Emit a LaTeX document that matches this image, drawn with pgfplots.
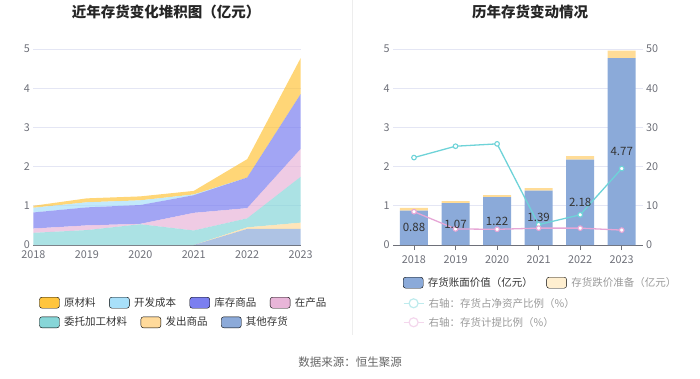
\documentclass[border=0pt]{standalone}
\usepackage{pgfplots}
\pgfplotsset{compat=1.18}
\usepackage{fontspec}
\setmainfont{Noto Sans CJK SC}
\definecolor{cYcl}{HTML}{FFC53D}
\definecolor{cKf}{HTML}{A8E0FA}
\definecolor{cKc}{HTML}{7B7FF0}
\definecolor{cZc}{HTML}{E8B5D8}
\definecolor{cWt}{HTML}{87D6D8}
\definecolor{cFc}{HTML}{FFDA9B}
\definecolor{cQt}{HTML}{8CAAD9}
\definecolor{cBar}{HTML}{8BAAD9}
\definecolor{cRes}{HTML}{FFDC97}
\definecolor{cTeal}{HTML}{6ED3D8}
\definecolor{cPink}{HTML}{E6A6D6}
\definecolor{cTick}{HTML}{6E7079}
\definecolor{cGrid}{HTML}{E4E6F4}
\definecolor{cLeg}{HTML}{333333}
\definecolor{cFade}{HTML}{9A9A9A}
\newcommand{\fs}[1]{\fontsize{#1bp}{#1bp}\selectfont}
\pgfplotsset{
  base/.style={scale only axis, ymin=0, ymax=5,
    /pgf/number format/assume math mode=true,
    tick label style={font=\fs{10.8}, text=cTick},
    xticklabel style={yshift=-2.5bp},
    ytick={0,1,2,3,4,5}, ymajorgrids, grid style={color=cGrid, line width=0.7pt},
    axis x line*=bottom, axis y line*=left,
    x axis line style={draw=cTick, line width=0.7pt, -},
    y axis line style={draw=none},
    ytick style={draw=none},
    clip=false},
  swatch/.style={legend image code/.code={\fill[##1, rounded corners=2.5bp] (0bp,-5.5bp) rectangle (20bp,5.5bp);}},
  lineleg/.style={legend image code/.code={\draw[##1, line width=1.2pt] (0bp,0bp) -- (20bp,0bp); \draw[##1, line width=1.2pt, fill=white] (10bp,0bp) circle (4.5bp);}},
  legrow/.style={hide axis, scale only axis, width=700bp, height=378bp, at={(0,0)}, anchor=south west,
    xmin=0, xmax=700, ymin=0, ymax=378,
    legend columns=-1,
    legend style={draw=none, fill=none, inner sep=0pt, outer sep=0pt, font=\fs{10.5}, text=cLeg,
      /tikz/every even column/.append style={column sep=9bp},
      nodes={inner xsep=4.5bp, inner ysep=0pt}}}
}
\begin{document}
\begin{tikzpicture}[x=1bp,y=1bp]
\useasboundingbox (0,0) rectangle (700,378);
\draw[color=black!7, line width=0.8pt] (352,43) -- (352,378);
\node[font=\fs{14.5}\bfseries, text=black!85] at (166,366.5) {近年存货变化堆积图（亿元）};
\node[font=\fs{14.5}\bfseries, text=black!85] at (530,366.5) {历年存货变动情况};
\node[font=\fs{11.5}, text=black!60] at (350,16) {数据来源：恒生聚源};

% left stacked area
\begin{axis}[base, at={(33.3bp,133bp)}, anchor=south west, width=267.4bp, height=196bp,
  xmin=2018, xmax=2023, xtick={2018,2019,2020,2021,2022,2023},
  xticklabels={2018,2019,2020,2021,2022,2023}, xtick style={draw=none},
  stack plots=y]
\addplot[draw=none, fill=cQt, fill opacity=0.7] coordinates {(2018,0) (2019,0) (2020,0) (2021,0) (2022,0.41) (2023,0.41)} \closedcycle;
\addplot[draw=none, fill=cFc, fill opacity=0.7] coordinates {(2018,0) (2019,0) (2020,0) (2021,0) (2022,0.04) (2023,0.16)} \closedcycle;
\addplot[draw=none, fill=cWt, fill opacity=0.7] coordinates {(2018,0.31) (2019,0.38) (2020,0.53) (2021,0.37) (2022,0.23) (2023,1.17)} \closedcycle;
\addplot[draw=none, fill=cZc, fill opacity=0.7] coordinates {(2018,0.11) (2019,0.12) (2020,0.01) (2021,0.45) (2022,0.26) (2023,0.71)} \closedcycle;
\addplot[draw=none, fill=cKc, fill opacity=0.7] coordinates {(2018,0.41) (2019,0.46) (2020,0.48) (2021,0.45) (2022,0.78) (2023,1.40)} \closedcycle;
\addplot[draw=none, fill=cKf, fill opacity=0.7] coordinates {(2018,0.12) (2019,0.13) (2020,0.12) (2021,0.02) (2022,0) (2023,0)} \closedcycle;
\addplot[draw=none, fill=cYcl, fill opacity=0.7] coordinates {(2018,0.05) (2019,0.10) (2020,0.10) (2021,0.09) (2022,0.47) (2023,0.92)} \closedcycle;
\end{axis}

% right bars
\begin{axis}[base, at={(393.2bp,133bp)}, anchor=south west, width=249.3bp, height=196bp,
  xmin=2017.5, xmax=2023.5, xtick={2018,2019,2020,2021,2022,2023},
  xticklabels={2018,2019,2020,2021,2022,2023},
  xtick style={draw=cTick, line width=0.7pt}, xtick align=outside, major tick length=5bp,
  xticklabel style={yshift=0bp},
  ybar stacked, bar width=28bp]
\addplot[draw=none, fill=cBar] coordinates {(2018,0.88) (2019,1.07) (2020,1.22) (2021,1.39) (2022,2.18) (2023,4.77)};
\addplot[draw=none, fill=cRes] coordinates {(2018,0.07) (2019,0.05) (2020,0.05) (2021,0.06) (2022,0.09) (2023,0.19)};
\end{axis}

% right lines, right axis
\begin{axis}[scale only axis, at={(393.2bp,133bp)}, anchor=south west, width=249.3bp, height=196bp,
  xmin=2017.5, xmax=2023.5, ymin=0, ymax=50, ytick={0,10,20,30,40,50},
  /pgf/number format/assume math mode=true,
  axis x line=none, axis y line*=right, y axis line style={draw=none}, ytick style={draw=none},
  tick label style={font=\fs{10.8}, text=cTick}, clip=false]
\addplot[cTeal, line width=1.3pt, mark=*, mark size=2.3bp, mark options={fill=white, line width=1.1pt}] coordinates {(2018,22.3) (2019,25.2) (2020,25.8) (2021,5.2) (2022,7.7) (2023,19.5)};
\addplot[cPink, line width=1.3pt, mark=*, mark size=2.3bp, mark options={fill=white, line width=1.1pt}] coordinates {(2018,8.5) (2019,4.1) (2020,4.0) (2021,4.3) (2022,4.3) (2023,3.8)};
\end{axis}

% bar value labels
\begin{axis}[scale only axis, hide axis, at={(393.2bp,133bp)}, anchor=south west, width=249.3bp, height=196bp,
  xmin=2017.5, xmax=2023.5, ymin=0, ymax=5, clip=false]
\addplot[draw=none, mark=none, nodes near coords, point meta=explicit symbolic,
  every node near coord/.style={anchor=center, font=\fs{11.5}, text=black!80}]
  coordinates {(2018,0.44)[0.88] (2019,0.535)[1.07] (2020,0.61)[1.22] (2021,0.695)[1.39] (2022,1.09)[2.18] (2023,2.385)[4.77]};
\end{axis}

% left legend rows
\begin{axis}[legrow, legend style={at={(39.3/700,75.3/378)}, anchor=west}]
\addlegendimage{swatch, fill=cYcl}\addlegendentry{原材料}
\addlegendimage{swatch, fill=cKf}\addlegendentry{开发成本}
\addlegendimage{swatch, fill=cKc}\addlegendentry{库存商品}
\addlegendimage{swatch, fill=cZc}\addlegendentry{在产品}
\end{axis}
\begin{axis}[legrow, legend style={at={(39.3/700,55.7/378)}, anchor=west}]
\addlegendimage{swatch, fill=cWt}\addlegendentry{委托加工材料}
\addlegendimage{swatch, fill=cFc}\addlegendentry{发出商品}
\addlegendimage{swatch, fill=cQt}\addlegendentry{其他存货}
\end{axis}
% right legend rows
\begin{axis}[legrow, legend style={at={(403/700,95.3/378)}, anchor=west}]
\addlegendimage{swatch, fill=cBar}\addlegendentry{存货账面价值（亿元）}
\addlegendimage{swatch, fill=cRes!45}\addlegendentry[text=cFade]{存货跌价准备（亿元）}
\end{axis}
\begin{axis}[legrow, legend style={at={(403/700,74.7/378)}, anchor=west}]
\addlegendimage{lineleg, draw=cTeal!45}\addlegendentry[text=cFade]{右轴：存货占净资产比例（\%）}
\end{axis}
\begin{axis}[legrow, legend style={at={(403/700,55.7/378)}, anchor=west}]
\addlegendimage{lineleg, draw=cPink!45}\addlegendentry[text=cFade]{右轴：存货计提比例（\%）}
\end{axis}
\end{tikzpicture}
\end{document}
